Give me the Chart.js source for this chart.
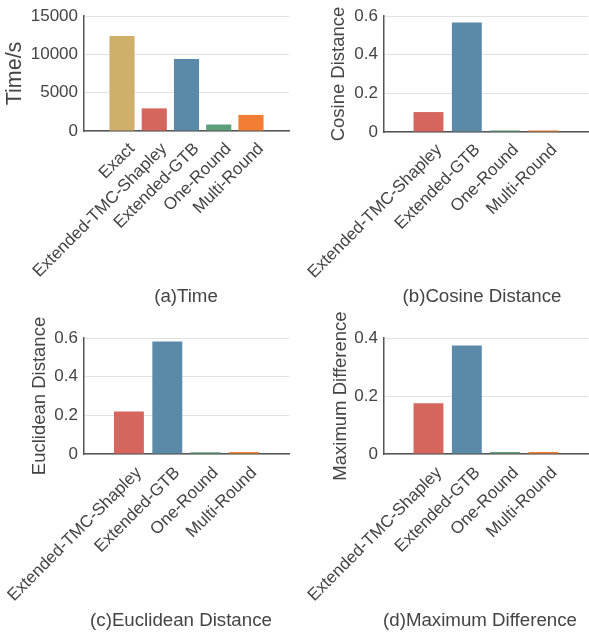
<!DOCTYPE html>
<html>
<head>
<meta charset="utf-8">
<script src="https://cdn.jsdelivr.net/npm/chart.js@4/dist/chart.umd.min.js"></script>
<style>
  html, body { margin: 0; padding: 0; background: #ffffff; }
  body { width: 589px; height: 635px; position: relative; overflow: hidden; font-family: "Liberation Sans", Arial, sans-serif; }
  canvas { position: absolute; }
  .cap { position: absolute; font-size: 18.7px; color: #444; white-space: nowrap; transform: translate(-50%, -50%); line-height: 1; }
</style>
</head>
<body>
<canvas id="cA" width="295" height="300" style="left:0;top:0"></canvas>
<canvas id="cB" width="294" height="300" style="left:295px;top:0"></canvas>
<canvas id="cC" width="295" height="335" style="left:0;top:300px"></canvas>
<canvas id="cD" width="294" height="335" style="left:295px;top:300px"></canvas>
<div class="cap" style="left:186px;top:296px">(a)Time</div>
<div class="cap" style="left:482px;top:296px">(b)Cosine Distance</div>
<div class="cap" style="left:181px;top:620px">(c)Euclidean Distance</div>
<div class="cap" style="left:480px;top:620px">(d)Maximum Difference</div>
<script>
// ---- data ----
const timeCategories = ['Exact', 'Extended-TMC-Shapley', 'Extended-GTB', 'One-Round', 'Multi-Round'];
const timeValues = [12400, 2950, 9400, 850, 2100];
const timeColors = ['#cfb06a', '#d6655d', '#5b8aa8', '#5e9f7b', '#f27e34'];
const timeTicks = [0, 5000, 10000, 15000];

const methodCategories = ['Extended-TMC-Shapley', 'Extended-GTB', 'One-Round', 'Multi-Round'];
const methodColors = ['#d6655d', '#5b8aa8', '#5e9f7b', '#f27e34'];
const cosineValues = [0.103, 0.567, 0.008, 0.008];
const euclideanValues = [0.22, 0.582, 0.009, 0.01];
const maxDiffValues = [0.175, 0.374, 0.007, 0.007];
const distanceTicks = [0, 0.2, 0.4, 0.6];
const maxDiffTicks = [0, 0.2, 0.4];

const FONT = '"Liberation Sans", Arial, sans-serif';
const TXT = '#444444';

function makeChart(id, cats, values, colors, yTicks, yTitle, L) {
  const n = cats.length;
  new Chart(document.getElementById(id), {
    type: 'bar',
    data: {
      datasets: [{
        data: values.map((v, i) => ({ x: i, y: v })),
        backgroundColor: colors,
        borderWidth: 0,
        barPercentage: 0.78,
        categoryPercentage: 1.0
      }]
    },
    options: {
      responsive: false,
      animation: false,
      events: [],
      layout: { padding: { left: 0, top: L.top, right: L.right, bottom: 0 } },
      plugins: { legend: { display: false }, tooltip: { enabled: false } },
      scales: {
        x: {
          type: 'linear',
          offset: false,
          min: -L.pad,
          max: n - 1 + L.pad,
          grid: { display: false, drawTicks: false, offset: false },
          border: { display: true, color: '#555555', width: 1.5 },
          afterBuildTicks: (s) => { s.ticks = cats.map((c, i) => ({ value: i + L.shift })); },
          afterFit: (s) => { s.height = L.xh; s.paddingLeft = 0; s.paddingRight = 0; },
          ticks: {
            autoSkip: false,
            minRotation: 45,
            maxRotation: 45,
            padding: L.xpad,
            color: TXT,
            font: { family: FONT, size: 17 },
            callback: (v, idx) => cats[idx]
          }
        },
        y: {
          type: 'linear',
          min: yTicks[0],
          max: yTicks[yTicks.length - 1],
          grid: { color: '#e2e2e2', lineWidth: 1, drawTicks: false },
          border: { display: true, color: '#555555', width: 1.5 },
          afterBuildTicks: (s) => { s.ticks = yTicks.map(v => ({ value: v })); },
          afterFit: (s) => { s.width = L.yw; s.paddingTop = 0; s.paddingBottom = 0; },
          title: {
            display: true,
            text: yTitle,
            color: TXT,
            font: { family: FONT, size: L.tsize },
            padding: { top: L.tpad, bottom: 0 }
          },
          ticks: {
            padding: 6,
            color: TXT,
            font: { family: FONT, size: 17 },
            callback: (v) => String(v)
          }
        }
      }
    }
  });
}

makeChart('cA', timeCategories, timeValues, timeColors, timeTicks, 'Time/s',
  { top: 16, right: 6, pad: 1.18, shift: 0.31, xh: 169, xpad: 8, yw: 84, tsize: 21.5, tpad: 2.6 });
makeChart('cB', methodCategories, cosineValues, methodColors, distanceTicks, 'Cosine Distance',
  { top: 16, right: 1, pad: 1.16, shift: 0.28, xh: 168, xpad: 8, yw: 89, tsize: 18.5, tpad: 33 });
makeChart('cC', methodCategories, euclideanValues, methodColors, distanceTicks, 'Euclidean Distance',
  { top: 38, right: 6, pad: 1.17, shift: 0.26, xh: 181, xpad: 9, yw: 84, tsize: 18.5, tpad: 29 });
makeChart('cD', methodCategories, maxDiffValues, methodColors, maxDiffTicks, 'Maximum Difference',
  { top: 38, right: 1, pad: 1.16, shift: 0.28, xh: 181, xpad: 9, yw: 89, tsize: 18.5, tpad: 35 });
</script>
</body>
</html>
